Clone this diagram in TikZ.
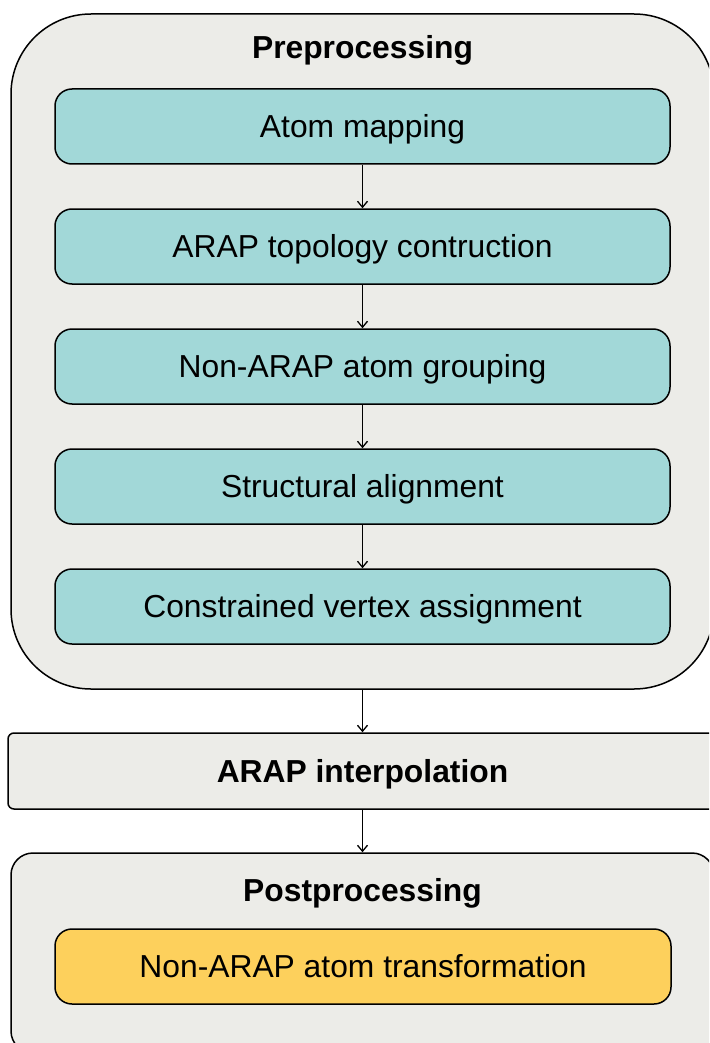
\documentclass[tikz,border=0pt]{standalone}
\usepackage{fontspec}
\setmainfont{Liberation Sans}
\usetikzlibrary{arrows.meta}
\definecolor{bggray}{RGB}{236,236,232}
\definecolor{tealbox}{RGB}{162,216,216}
\definecolor{orangebox}{RGB}{253,208,92}
\tikzset{
  txt/.style={font=\fontsize{31.8}{38}\selectfont, text height=22.8pt, text depth=0pt},
  btxt/.style={font=\fontsize{31.8}{38}\selectfont\bfseries, text height=22.8pt, text depth=0pt},
  stepbox/.style={draw=black, line width=1.5pt, fill=tealbox, rounded corners=17pt,
    minimum width=615pt, minimum height=75pt, inner sep=0pt, txt},
  postbox/.style={draw=black, line width=1.5pt, fill=orangebox, rounded corners=17pt,
    minimum width=616pt, minimum height=75pt, inner sep=0pt, txt},
  groupbox/.style={draw=black, line width=1.5pt, fill=bggray, inner sep=0pt},
  flow/.style={draw=black, line width=1.3pt, -{Straight Barb[length=6pt,width=10pt,line width=1.3pt]}}
}
\begin{document}
\begin{tikzpicture}[x=1pt,y=-1pt]
\useasboundingbox (0,0) rectangle (709,1043);
\clip (0,0) rectangle (709,1043);
% groups
\node[groupbox, rounded corners=80pt, minimum width=703pt, minimum height=675pt] (pre) at (362.5,351.5) {};
\node[btxt] (pretitle) at (362.5,47) {Preprocessing};
\node[groupbox, rounded corners=6pt, minimum width=709pt, minimum height=76pt, btxt] (interp) at (362.5,771) {ARAP interpolation};
\node[groupbox, rounded corners=22pt, minimum width=703pt, minimum height=200pt] (post) at (362.5,953) {};
\node[btxt] (posttitle) at (362.5,890) {Postprocessing};
% steps
\node[stepbox] (s1) at (362.5,126.5) {Atom mapping};
\node[stepbox] (s2) at (362.5,246.5) {ARAP topology contruction};
\node[stepbox] (s3) at (362.5,366.5) {Non-ARAP atom grouping};
\node[stepbox] (s4) at (362.5,486.5) {Structural alignment};
\node[stepbox] (s5) at (362.5,606.5) {Constrained vertex assignment};
\node[postbox] (t1) at (363,966.5) {Non-ARAP atom transformation};
% connectors
\draw[flow] (s1.south) -- (s2.north);
\draw[flow] (s2.south) -- (s3.north);
\draw[flow] (s3.south) -- (s4.north);
\draw[flow] (s4.south) -- (s5.north);
\draw[flow] (pre.south) -- (interp.north);
\draw[flow] (interp.south) -- (post.north);
\end{tikzpicture}
\end{document}
